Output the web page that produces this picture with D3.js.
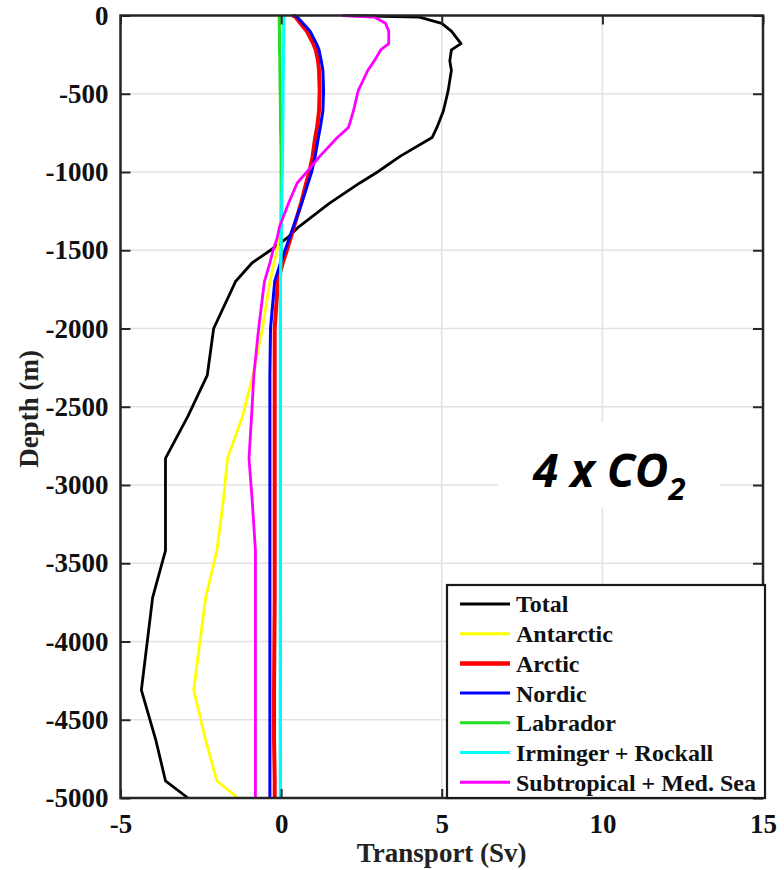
<!DOCTYPE html>
<html>
<head>
<meta charset="utf-8">
<script src="https://cdn.jsdelivr.net/npm/d3@7"></script>
<style>
	body { margin: 0; background: white; }
	svg { display: block; }
</style>
</head>
<body>
<svg id="chart" width="784" height="870"></svg>
<script>
/* Depth levels (m), shared by every region */
var depth = [0, -10, -50, -100, -180, -220, -290, -350, -480, -610, -715, -780, -900, -1000, -1070, -1200,
	-1350, -1420, -1500, -1580, -1700, -2000, -2300, -2560, -2830, -3100, -3420, -3720, -4310, -4630, -4890, -5000]

/* Transport (Sv) per region at each depth level */
var total = [2.0, 4.3, 5.0, 5.3, 5.6, 5.3, 5.25, 5.3, 5.2, 5.05, 4.85, 4.7, 3.7, 3.0, 2.45, 1.5,
	0.55, 0.2, -0.33, -0.9, -1.42, -2.1, -2.3, -2.9, -3.6, -3.6, -3.6, -4.0, -4.35, -3.9, -3.6, -2.9]
var antarctic = [0.0, 0.0, 0.0, 0.0, 0.0, 0.0, 0.0, 0.0, 0.0, 0.0, 0.0, 0.0, 0.0, 0.0, 0.0, 0.0,
	-0.03, -0.06, -0.12, -0.22, -0.35, -0.58, -0.88, -1.2, -1.67, -1.8, -2.0, -2.35, -2.72, -2.35, -2.0, -1.35]
var arctic = [0.35, 0.45, 0.6, 0.8, 1.0, 1.08, 1.15, 1.18, 1.2, 1.18, 1.12, 1.06, 0.98, 0.88, 0.78, 0.62,
	0.4, 0.3, 0.18, 0.05, -0.1, -0.2, -0.2, -0.2, -0.2, -0.2, -0.2, -0.2, -0.22, -0.22, -0.2, -0.2]
var nordic = [0.4, 0.5, 0.68, 0.9, 1.1, 1.18, 1.25, 1.3, 1.32, 1.3, 1.22, 1.16, 1.06, 0.95, 0.84, 0.64,
	0.38, 0.26, 0.12, -0.02, -0.2, -0.33, -0.35, -0.35, -0.35, -0.35, -0.35, -0.35, -0.35, -0.35, -0.35, -0.35]
var labrador = [-0.06, -0.06, -0.06, -0.05, -0.05, -0.05, -0.04, -0.04, -0.03, -0.02, -0.02, -0.01, 0.0, 0.0, 0.0, 0.0,
	0.0, 0.0, 0.0, -0.01, -0.02, -0.02, -0.02, -0.02, -0.02, -0.02, -0.02, -0.02, -0.02, -0.02, -0.02, -0.02]
var irminger = [0.08, 0.08, 0.08, 0.08, 0.08, 0.07, 0.07, 0.07, 0.06, 0.06, 0.05, 0.05, 0.04, 0.04, 0.03, 0.02,
	0.01, 0.0, 0.0, -0.01, -0.02, -0.03, -0.03, -0.03, -0.03, -0.03, -0.03, -0.03, -0.03, -0.03, -0.03, -0.03]
var subtropical = [1.9, 2.9, 3.25, 3.35, 3.35, 3.1, 2.9, 2.7, 2.4, 2.25, 2.1, 1.75, 1.2, 0.8, 0.5, 0.23,
	-0.05, -0.12, -0.25, -0.35, -0.52, -0.7, -0.85, -0.92, -1.0, -0.9, -0.8, -0.8, -0.8, -0.8, -0.8, -0.8]

var seriesNames = ['Total', 'Antarctic', 'Arctic', 'Nordic', 'Labrador', 'Irminger + Rockall', 'Subtropical + Med. Sea']
var seriesValues = [total, antarctic, arctic, nordic, labrador, irminger, subtropical]
var seriesColors = ['#000000', '#ffff00', '#ff0000', '#0000ff', '#22e022', '#00ffff', '#ff00ff']
var seriesWidths = [2.8, 2.8, 4, 3, 3, 3, 2.8]

var xTicks = [-5, 0, 5, 10, 15]
var yTicks = [0, -500, -1000, -1500, -2000, -2500, -3000, -3500, -4000, -4500, -5000]

var serif = '"Liberation Serif", "Times New Roman", serif'
var plotLeft = 120.5, plotRight = 763, plotTop = 15.5, plotBottom = 798

var x = d3.scaleLinear().domain([-5, 15]).range([plotLeft, plotRight])
var y = d3.scaleLinear().domain([-5000, 0]).range([plotBottom, plotTop])

var svg = d3.select('#chart')

/* Light grid under everything */
var grid = svg.append('g').attr('stroke', '#e2e2e2').attr('stroke-width', 1.6)
grid.selectAll('line.v').data(xTicks).enter().append('line').attr('class', 'v')
	.attr('x1', function(d) { return x(d) }).attr('x2', function(d) { return x(d) })
	.attr('y1', plotTop).attr('y2', plotBottom)
grid.selectAll('line.h').data(yTicks).enter().append('line').attr('class', 'h')
	.attr('y1', function(d) { return y(d) }).attr('y2', function(d) { return y(d) })
	.attr('x1', plotLeft).attr('x2', plotRight)

/* Profiles */
var line = d3.line()
	.x(function(d) { return x(d[0]) })
	.y(function(d) { return y(d[1]) })

seriesValues.forEach(function(values, i) {
	svg.append('path')
		.datum(values.map(function(v, k) { return [v, depth[k]] }))
		.attr('fill', 'none')
		.attr('stroke', seriesColors[i])
		.attr('stroke-width', seriesWidths[i])
		.attr('stroke-linejoin', 'round')
		.attr('d', line)
})

/* Axes: labelled left and bottom, tick-only top and right, all ticks pointing in */
function styleAxis(g) {
	g.select('.domain').remove()
	g.selectAll('line').attr('stroke', '#262626').attr('stroke-width', 2)
	g.selectAll('text').attr('fill', '#111').style('font-family', serif).style('font-weight', 'bold').style('font-size', '27px')
}

svg.append('g').attr('transform', 'translate(0,' + plotBottom + ')')
	.call(d3.axisBottom(x).tickValues(xTicks).tickSizeInner(-9).tickSizeOuter(0).tickPadding(16)
		.tickFormat(function(d) { return String(d) }))
	.call(styleAxis)
svg.append('g').attr('transform', 'translate(' + plotLeft + ',0)')
	.call(d3.axisLeft(y).tickValues(yTicks).tickSizeInner(-10).tickSizeOuter(0).tickPadding(12)
		.tickFormat(function(d) { return String(d) }))
	.call(styleAxis)
svg.append('g').attr('transform', 'translate(0,' + plotTop + ')')
	.call(d3.axisTop(x).tickValues(xTicks).tickSizeInner(-9).tickSizeOuter(0).tickFormat(''))
	.call(styleAxis)
svg.append('g').attr('transform', 'translate(' + plotRight + ',0)')
	.call(d3.axisRight(y).tickValues(yTicks).tickSizeInner(-10).tickSizeOuter(0).tickFormat(''))
	.call(styleAxis)

svg.append('rect')
	.attr('x', plotLeft).attr('y', plotTop).attr('width', plotRight - plotLeft).attr('height', plotBottom - plotTop)
	.attr('fill', 'none').attr('stroke', '#262626').attr('stroke-width', 2.5)

/* Axis titles */
svg.append('text')
	.attr('x', (plotLeft + plotRight) / 2).attr('y', 862)
	.attr('text-anchor', 'middle')
	.style('font-family', serif).style('font-weight', 'bold').style('font-size', '27px').attr('fill', '#222')
	.text('Transport (Sv)')
svg.append('text')
	.attr('transform', 'translate(38,409) rotate(-90)')
	.attr('text-anchor', 'middle')
	.style('font-family', serif).style('font-weight', 'bold').style('font-size', '27px').attr('fill', '#222')
	.text('Depth (m)')

/* Scenario label on a white patch */
svg.append('rect').attr('x', 498).attr('y', 422).attr('width', 222).attr('height', 86).attr('fill', 'white')
var scen = svg.append('text')
	.attr('x', 533).attr('y', 487)
	.style('font-family', '"Open Sans", "Noto Sans", sans-serif').style('font-weight', 'bold')
	.style('font-style', 'italic').style('font-size', '46px').attr('fill', '#000')
scen.append('tspan').text('4 x CO')
scen.append('tspan').attr('dy', 13).style('font-size', '31px').text('2')

/* Legend */
var legend = svg.append('g')
legend.append('rect')
	.attr('x', 447).attr('y', 585).attr('width', 318).attr('height', 213)
	.attr('fill', 'white').attr('stroke', '#1a1a1a').attr('stroke-width', 2.2)

var items = legend.selectAll('g.item').data(seriesNames).enter().append('g').attr('class', 'item')
	.attr('transform', function(d, i) { return 'translate(0,' + (604 + i * 29.7) + ')' })
items.append('line')
	.attr('x1', 460).attr('x2', 510)
	.attr('stroke', function(d, i) { return seriesColors[i] })
	.attr('stroke-width', function(d, i) { return i == 2 ? 4.5 : 3 })
items.append('text')
	.attr('x', 516).attr('dy', '0.35em')
	.style('font-family', serif).style('font-weight', 'bold').style('font-size', '24px').attr('fill', '#111')
	.text(function(d) { return d })
</script>
</body>
</html>
